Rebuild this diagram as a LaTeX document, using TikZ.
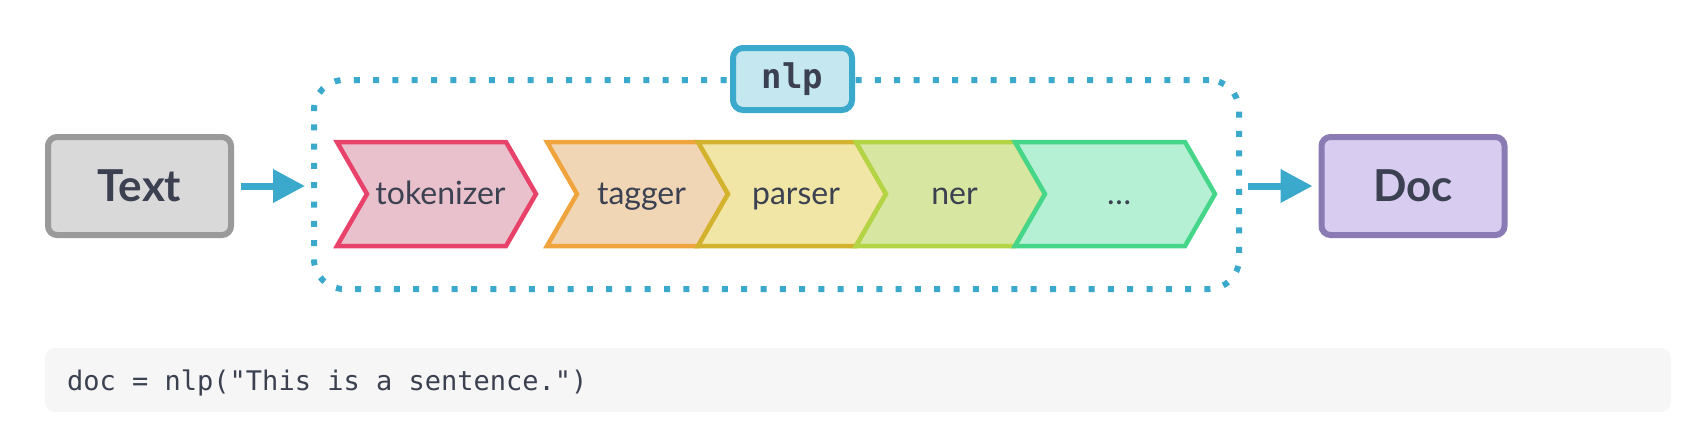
\documentclass[tikz,border=0pt]{standalone}
\usepackage{fontspec}
\usepackage{xcolor}
\usetikzlibrary{arrows.meta}
\newfontfamily\latofont{Lato}
\setmonofont{DejaVu Sans Mono}

\definecolor{inkc}{HTML}{3B4151}
\definecolor{flowc}{HTML}{3AA9CC}
\definecolor{textfill}{HTML}{D9D9D9}
\definecolor{textline}{HTML}{9A9A9A}
\definecolor{docfill}{HTML}{D8CDF0}
\definecolor{docline}{HTML}{8B7BB5}
\definecolor{nlpfill}{HTML}{C5E7F0}
\definecolor{tokfill}{HTML}{E8C1CC}
\definecolor{tokline}{HTML}{E8416A}
\definecolor{tagfill}{HTML}{F1D6B6}
\definecolor{tagline}{HTML}{F0A43E}
\definecolor{parfill}{HTML}{F1E6A6}
\definecolor{parline}{HTML}{D3B22E}
\definecolor{nerfill}{HTML}{D7E6A0}
\definecolor{nerline}{HTML}{B3D444}
\definecolor{etcfill}{HTML}{B5F0D5}
\definecolor{etcline}{HTML}{45D68A}
\definecolor{codefill}{HTML}{F6F6F6}

\tikzset{
  endbox/.style={draw, line width=6pt, rounded corners=9pt, minimum width=183pt, minimum height=98pt,
    text=inkc, font=\latofont\bfseries\fontsize{44}{48}\selectfont},
  stage/.style={line width=4.5pt},
  stagelabel/.style={anchor=base, text=inkc, inner sep=0pt, font=\latofont\fontsize{32}{36}\selectfont},
  flow/.style={draw=flowc, line width=7pt, -{Triangle[length=32pt,width=32pt]}}
}

\begin{document}
\begin{tikzpicture}[x=1pt,y=1pt,yscale=-1]
        \useasboundingbox (0,0) rectangle (1696,434);

        %Shape: Rounded Rect [id:pipe]
        \node [draw=flowc, line width=6pt, dash pattern=on 6pt off 13.3pt, rounded corners=30pt, minimum width=925pt, minimum height=209pt] (pipe) at (776.5,184.5) {};
        %Shape: Rounded Rect [id:nlp]
        \node [draw=flowc, fill=nlpfill, line width=6pt, rounded corners=10pt, minimum width=119pt, minimum height=62pt, text=inkc, font=\ttfamily\bfseries\fontsize{34}{38}\selectfont] (nlp) at (792.5,79) {nlp};

        %Shape: Chevrons
        \foreach \xa/\xb/\fc/\dc/\nm/\lbl in {337/506/tokfill/tokline/tok/tokenizer, 547/698/tagfill/tagline/tag/tagger, 698/856/parfill/parline/par/parser, 856/1015/nerfill/nerline/ner/ner, 1015/1185/etcfill/etcline/etc/…}{
          \draw [stage, fill=\fc, draw=\dc] (\xa,142) -- (\xb,142) -- (\xb+30,194) -- (\xb,246) -- (\xa,246) -- (\xa+30,194) -- cycle ;
          % Text Node
          \node [stagelabel] (\nm) at ({(\xa+\xb)/2+19},204) {\lbl};
        }

        %Shape: Rounded Rect [id:text]
        \node [endbox, fill=textfill, draw=textline] (text) at (139.5,186) {Text};
        %Shape: Rounded Rect [id:doc]
        \node [endbox, fill=docfill, draw=docline] (doc) at (1413,186) {Doc};

        %Straight Lines [id:flow]
        \draw [flow, shorten <=7pt, shorten >=6pt] (text.east) -- (text.east -| pipe.west) ;
        \draw [flow, shorten <=6pt, shorten >=6pt] (pipe.east |- doc.west) -- (doc.west) ;

        %Shape: Rounded Rect [id:code]
        \node [fill=codefill, rounded corners=10pt, minimum width=1626pt, minimum height=64pt] (code) at (858,380) {};
        % Text Node
        \node [anchor=base west, inner sep=0pt, text=inkc, font=\ttfamily\fontsize{27}{32}\selectfont] (call) at (67,390) {doc = nlp("This is a sentence.")};
\end{tikzpicture}
\end{document}
